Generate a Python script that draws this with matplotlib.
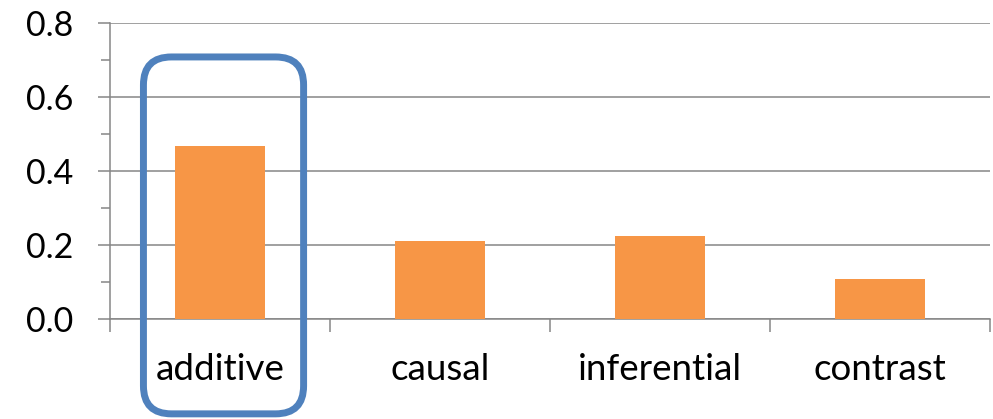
import matplotlib
matplotlib.use("Agg")
import matplotlib.pyplot as plt
from matplotlib.patches import FancyBboxPatch
from matplotlib.ticker import MultipleLocator, FixedLocator
from matplotlib import transforms

categories = ["additive", "causal", "inferential", "contrast"]
values = [0.468, 0.209, 0.224, 0.107]
y_ticks = [0.0, 0.2, 0.4, 0.6, 0.8]
y_tick_labels = ["0.0", "0.2", "0.4", "0.6", "0.8"]

W, H = 993, 419
plt.rcParams["font.family"] = ["Lato", "DejaVu Sans"]

fig = plt.figure(figsize=(W / 100, H / 100), dpi=100)
ax = fig.add_axes([110 / W, (H - 318.5) / H, 880 / W, 295.2 / H])

grid_col = "#868686"
x = list(range(len(categories)))
ax.bar(x, values, width=0.41, color="#F79646", zorder=3)

ax.set_xlim(-0.5, len(categories) - 0.5)
ax.set_ylim(0, 0.8)

ax.set_yticks(y_ticks)
ax.set_yticklabels(y_tick_labels)
ax.yaxis.set_minor_locator(MultipleLocator(0.1))
ax.grid(axis="y", which="major", color=grid_col, linewidth=1.1, zorder=1)

# category boundaries carry the tick marks, centres carry the labels
ax.xaxis.set_major_locator(FixedLocator([i - 0.5 for i in range(len(categories) + 1)]))
ax.xaxis.set_major_formatter(plt.NullFormatter())
ax.xaxis.set_minor_locator(FixedLocator(x))
ax.set_xticklabels(categories, minor=True)

ax.tick_params(axis="y", which="major", direction="out", length=8.6, width=1.1,
               color=grid_col, labelsize=24.5, pad=18)
ax.tick_params(axis="y", which="minor", direction="out", length=6.5, width=1.1,
               color=grid_col)
ax.tick_params(axis="x", which="major", direction="out", length=9.5, width=1.1,
               color=grid_col)
ax.tick_params(axis="x", which="minor", length=0, labelsize=26.5, pad=25)

for s in ["top", "right"]:
    ax.spines[s].set_visible(False)
for s in ["left", "bottom"]:
    ax.spines[s].set_color(grid_col)
    ax.spines[s].set_linewidth(1.1)

# rounded highlight frame around the first category, in pixel units
fig.canvas.draw()
px = transforms.Affine2D().scale(1 / W, 1 / H) + fig.transFigure
x0 = ax.transData.transform((-0.348, 0))[0]
x1 = ax.transData.transform((0.38, 0))[0]
y_top = ax.transAxes.transform((0, 0.886))[1]
y_bot = ax.transAxes.transform((0, -0.323))[1]
frame = FancyBboxPatch((x0, y_bot), x1 - x0, y_top - y_bot,
                       boxstyle="round,pad=0,rounding_size=28",
                       transform=px, fill=False, edgecolor="#4F81BD",
                       linewidth=5.0, clip_on=False, zorder=5)
fig.patches.append(frame)

fig.savefig("out.png", dpi=100)
